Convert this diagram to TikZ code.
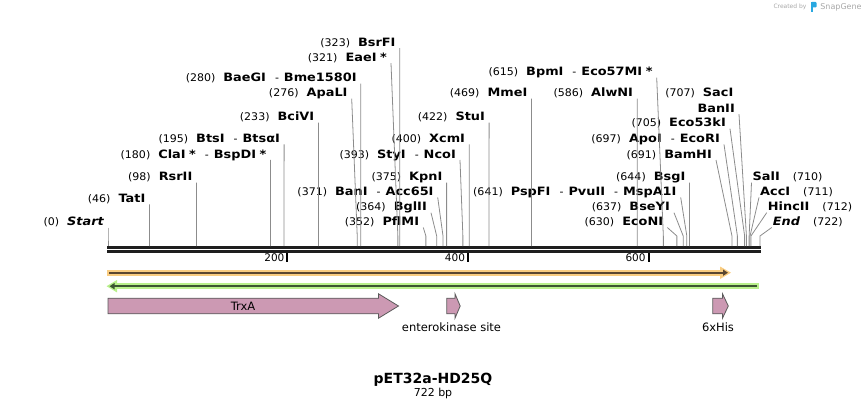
\documentclass[tikz,border=0pt]{standalone}
\usepackage{fontspec}
\setmainfont{DejaVu Sans}
\newfontfamily\enzfont[FakeStretch=1.12]{DejaVu Sans}
\newfontfamily\posfont[FakeStretch=1.05]{DejaVu Sans}
\usepackage{xcolor}
\usepackage{tikz}
\usetikzlibrary{arrows.meta}

\definecolor{cutgray}{HTML}{8C8C8C}
\definecolor{seqblack}{HTML}{1E1E1E}
\definecolor{orangeglow}{HTML}{F9CC80}
\definecolor{orangedark}{HTML}{5A4630}
\definecolor{greenglow}{HTML}{B9F08C}
\definecolor{greendark}{HTML}{3C5532}
\definecolor{featpink}{HTML}{CC99B3}
\definecolor{featborder}{HTML}{5A5A5A}
\definecolor{markgray}{HTML}{A8A8A8}
\definecolor{snapblue}{HTML}{2AA8E0}

\newcommand{\cpos}[1]{{\posfont\fontsize{10.5}{12}\selectfont(#1)}\hspace{8pt}}
\newcommand{\rpos}[1]{\hspace{13pt}{\posfont\fontsize{10.5}{12}\selectfont(#1)}}
\newcommand{\enz}[1]{{\enzfont\fontsize{11.5}{13}\selectfont\bfseries #1}}
\newcommand{\esep}{\hspace{9pt}{\posfont\fontsize{10.5}{12}\selectfont-}\hspace{5pt}}
\newcommand{\astk}{\hspace{3.5pt}*}

\begin{document}
\begin{tikzpicture}[x=1pt, y=-1pt,
            cut/.style={draw=cutgray, line width=0.8pt},
            lbl/.style={anchor=south east, inner xsep=4pt, inner ysep=0.5pt, text height=8pt, text depth=1pt},
            rlbl/.style={anchor=south west, inner xsep=1pt, inner ysep=0.5pt, text height=8pt, text depth=1pt},
            feat/.style={draw=featborder, fill=featpink, line width=0.8pt},
            featlbl/.style={font=\fontsize{11.5}{13}\selectfont}]
        \useasboundingbox (0,0) rectangle (868,409);

        % cut sites on the sequence and the knees of their lines
        \foreach \p in {0,46,98,180,195,233,276,280,321,323,352,364,371,375,393,400,422,469,586,615,630,637,641,644,691,697,705,707,710,711,712,722}{
            \coordinate (s\p) at ({108+0.903*\p},246);
            \coordinate (k\p) at ({108+0.903*\p},236);
        }

        % sequence and ruler
        \draw[seqblack, line width=2.6pt] (107,247.3) -- (760.5,247.3);
        \draw[seqblack, line width=2.6pt] (107,251.3) -- (760.5,251.3);
        \foreach \t in {200,400,600}{
            \draw[black, line width=2pt] ({108+0.903*\t-1.2},253) -- ++(0,9);
            \node[anchor=east, inner sep=0pt, font=\fontsize{10.5}{12}\selectfont] (r\t) at ({108+0.903*\t-4},258) {\t};
        }

        % left labels
        \node[lbl] (start) at (108,227.5) {\cpos{0}\enz{\itshape Start}};
        \node[lbl] (tatI) at (149.5,204.4) {\cpos{46}\enz{TatI}};
        \node[lbl] (rsrII) at (196.5,182.7) {\cpos{98}\enz{RsrII}};
        \node[lbl] (claI) at (270.5,160) {\cpos{180}\enz{ClaI\astk}\esep\enz{BspDI\astk}};
        \node[lbl] (btsI) at (284.1,144.4) {\cpos{195}\enz{BtsI}\esep\enz{BtsαI}};
        \node[lbl] (bciVI) at (318.4,122.7) {\cpos{233}\enz{BciVI}};
        \node[lbl] (apaLI) at (351.7,98.7) {\cpos{276}\enz{ApaLI}};
        \node[lbl] (baeGI) at (360.8,83.7) {\cpos{280}\enz{BaeGI}\esep\enz{Bme1580I}};
        \node[lbl] (eaeI) at (391,63.2) {\cpos{321}\enz{EaeI\astk}};
        \node[lbl] (bsrFI) at (399.7,48.2) {\cpos{323}\enz{BsrFI}};

        % middle labels
        \node[lbl] (pflMI) at (423.3,227.5) {\cpos{352}\enz{PflMI}};
        \node[lbl] (bglII) at (431,212.7) {\cpos{364}\enz{BglII}};
        \node[lbl] (banI) at (437.7,197.4) {\cpos{371}\enz{BanI}\esep\enz{Acc65I}};
        \node[lbl] (kpnI) at (446.6,182.7) {\cpos{375}\enz{KpnI}};
        \node[lbl] (styI) at (460,160) {\cpos{393}\enz{StyI}\esep\enz{NcoI}};
        \node[lbl] (xcmI) at (469.2,144.4) {\cpos{400}\enz{XcmI}};
        \node[lbl] (stuI) at (489.1,122.7) {\cpos{422}\enz{StuI}};
        \node[lbl] (mmeI) at (531.5,98.7) {\cpos{469}\enz{MmeI}};
        \node[lbl] (alwNI) at (637.2,98.7) {\cpos{586}\enz{AlwNI}};
        \node[lbl] (bpmI) at (656.7,77.7) {\cpos{615}\enz{BpmI}\esep\enz{Eco57MI\astk}};
        \node[lbl] (ecoNI) at (667.3,227.5) {\cpos{630}\enz{EcoNI}};
        \node[lbl] (bseYI) at (674,212.7) {\cpos{637}\enz{BseYI}};
        \node[lbl] (pspFI) at (680.7,197.4) {\cpos{641}\enz{PspFI}\esep\enz{PvuII}\esep\enz{MspA1I}};
        \node[lbl] (bsgI) at (689.5,182.7) {\cpos{644}\enz{BsgI}};
        \node[lbl] (bamHI) at (716,160) {\cpos{691}\enz{BamHI}};
        \node[lbl] (apoI) at (724,144.4) {\cpos{697}\enz{ApoI}\esep\enz{EcoRI}};
        \node[lbl] (eco53kI) at (730,128.7) {\cpos{705}\enz{Eco53kI}};
        \node[lbl] (sacI) at (737.5,98.7) {\cpos{707}\enz{SacI}};
        \node[lbl] (banII) at (739,114.2) {\enz{BanII}};

        % right labels
        \node[rlbl] (salI) at (751.5,182.7) {\enz{SalI}\rpos{710}};
        \node[rlbl] (accI) at (759,197.4) {\enz{AccI}\rpos{711}};
        \node[rlbl] (hincII) at (766.7,212.7) {\enz{HincII}\rpos{712}};
        \node[rlbl] (end) at (771.7,227.5) {\enz{\itshape End}\rpos{722}};

        % connectors
        \draw[cut] (start.south east) -- (k0) -- (s0);
        \draw[cut] (tatI.south east) -- (k46) -- (s46);
        \draw[cut] (rsrII.south east) -- (k98) -- (s98);
        \draw[cut] (claI.south east) -- (k180) -- (s180);
        \draw[cut] (btsI.south east) -- (k195) -- (s195);
        \draw[cut] (bciVI.south east) -- (k233) -- (s233);
        \draw[cut] (apaLI.south east) -- (k276) -- (s276);
        \draw[cut] (baeGI.south east) -- (k280) -- (s280);
        \draw[cut] (eaeI.south east) -- (k321) -- (s321);
        \draw[cut] (bsrFI.south east) -- (k323) -- (s323);
        \draw[cut] (pflMI.south east) -- (k352) -- (s352);
        \draw[cut] (bglII.south east) -- (k364) -- (s364);
        \draw[cut] (banI.south east) -- (k371) -- (s371);
        \draw[cut] (kpnI.south east) -- (k375) -- (s375);
        \draw[cut] (styI.south east) -- (k393) -- (s393);
        \draw[cut] (xcmI.south east) -- (k400) -- (s400);
        \draw[cut] (stuI.south east) -- (k422) -- (s422);
        \draw[cut] (mmeI.south east) -- (k469) -- (s469);
        \draw[cut] (alwNI.south east) -- (k586) -- (s586);
        \draw[cut] (bpmI.south east) -- (k615) -- (s615);
        \draw[cut] (ecoNI.south east) -- (k630) -- (s630);
        \draw[cut] (bseYI.south east) -- (k637) -- (s637);
        \draw[cut] (pspFI.south east) -- (k641) -- (s641);
        \draw[cut] (bsgI.south east) -- (k644) -- (s644);
        \draw[cut] (bamHI.south east) -- (k691) -- (s691);
        \draw[cut] (apoI.south east) -- (k697) -- (s697);
        \draw[cut] (eco53kI.south east) -- (k705) -- (s705);
        \draw[cut] (banII.south east) -- (k707) -- (s707);
        \draw[cut] (salI.south west) -- (k710) -- (s710);
        \draw[cut] (accI.south west) -- (k711) -- (s711);
        \draw[cut] (hincII.south west) -- (k712) -- (s712);
        \draw[cut] (end.south west) -- (k722) -- (s722);

        % forward and reverse bars
        \fill[orangeglow] (107,269.7) rectangle (722,275.7);
        \fill[orangeglow] (720,266.5) -- (731,272.7) -- (720,279) -- cycle;
        \draw[orangedark, line width=2pt, -{Triangle[length=5pt,width=6pt]}] (109,272.7) -- (728,272.7);
        \fill[greenglow] (114,283.3) rectangle (758.5,289);
        \fill[greenglow] (117,280) -- (106.5,286.2) -- (117,292.4) -- cycle;
        \draw[greendark, line width=2pt, -{Triangle[length=5pt,width=6pt]}] (757,286.2) -- (109.5,286.2);

        % features
        \draw[feat] (108,298.2) -- (378.5,298.2) -- (378.5,293.8) -- (398.5,306) -- (378.5,318.2) -- (378.5,313.8) -- (108,313.8) -- cycle;
        \node[featlbl] (trxA) at (243,306) {TrxA};
        \draw[feat] (446.8,298.2) -- (455,298.2) -- (455,293.8) -- (460.2,306) -- (455,318.2) -- (455,313.8) -- (446.8,313.8) -- cycle;
        \node[featlbl] (ekSite) at (451.5,327.5) {enterokinase site};
        \draw[feat] (712.8,298.2) -- (722.5,298.2) -- (722.5,293.8) -- (728.3,306) -- (722.5,318.2) -- (722.5,313.8) -- (712.8,313.8) -- cycle;
        \node[featlbl] (his) at (718,327.5) {6xHis};

        % title
        \node[font=\fontsize{14}{16}\selectfont\bfseries] (title) at (433,379.5) {pET32a-HD25Q};
        \node[font=\fontsize{11}{13}\selectfont] (size) at (433,393.5) {722 bp};

        % watermark
        \node[markgray, font=\fontsize{6}{7}\selectfont] (made) at (790,7) {Created by};
        \fill[snapblue] (811,2) rectangle (813,12);
        \fill[snapblue, rounded corners=1pt] (811,2) rectangle (816.5,7.5);
        \node[markgray, font=\fontsize{8}{9}\selectfont] (snap) at (841,7) {SnapGene};
    \end{tikzpicture}
\end{document}
